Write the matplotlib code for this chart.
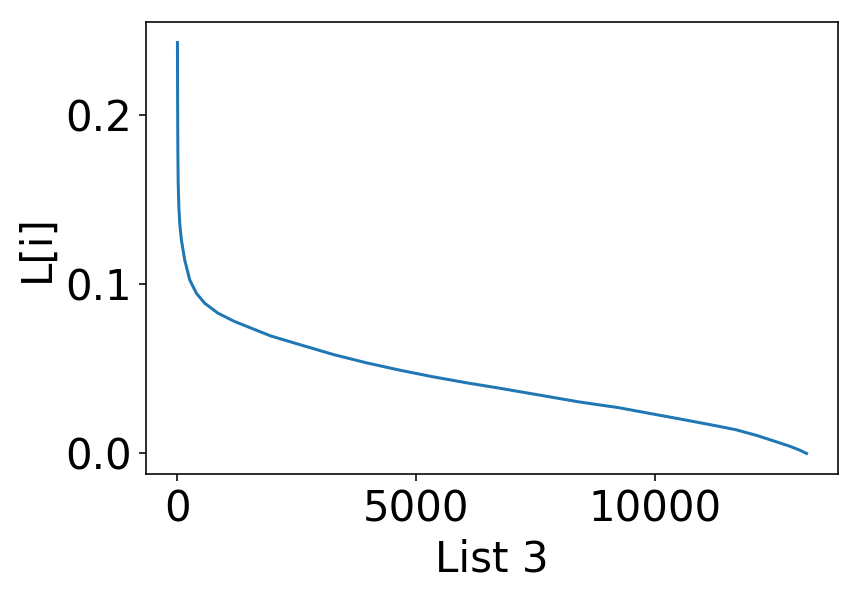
import matplotlib
matplotlib.use("Agg")
import matplotlib.pyplot as plt

# Values (index, value)
index = [0, 3, 8, 15, 30, 50, 83, 152, 256, 395, 568, 846, 1192, 1538, 1954,
         2500, 3271, 3964, 4657, 5350, 6043, 6736, 7706, 8399, 9231, 9923,
         10617, 11310, 11700, 12141, 12557, 12834, 13042, 13180]
values = [0.2427, 0.210, 0.180, 0.160, 0.145, 0.135, 0.126, 0.1143, 0.1026,
          0.0947, 0.0888, 0.0829, 0.0780, 0.0741, 0.0694, 0.0648, 0.0584,
          0.0535, 0.0492, 0.0453, 0.0418, 0.0386, 0.0339, 0.0305, 0.0271,
          0.0235, 0.0199, 0.0162, 0.0140, 0.0106, 0.0068, 0.0042, 0.0019, 0.0]
xticks = [0, 5000, 10000]
yticks = [0.0, 0.1, 0.2]

fig = plt.figure(figsize=(865 / 144, 594 / 144), dpi=144)
ax = fig.add_axes([146 / 865, 1 - 474 / 594, (838 - 146) / 865, (474 - 22) / 594])
ax.plot(index, values, color="#1f77b4", linewidth=1.5)
ax.set_xticks(xticks)
ax.set_yticks(yticks)
ax.set_yticklabels([f"{v:.1f}" for v in yticks])
ax.tick_params(labelsize=21)
ax.set_xlabel("List 3", fontsize=21)
ax.set_ylabel("L[i]", fontsize=21)
fig.savefig("out.png", dpi=144)
